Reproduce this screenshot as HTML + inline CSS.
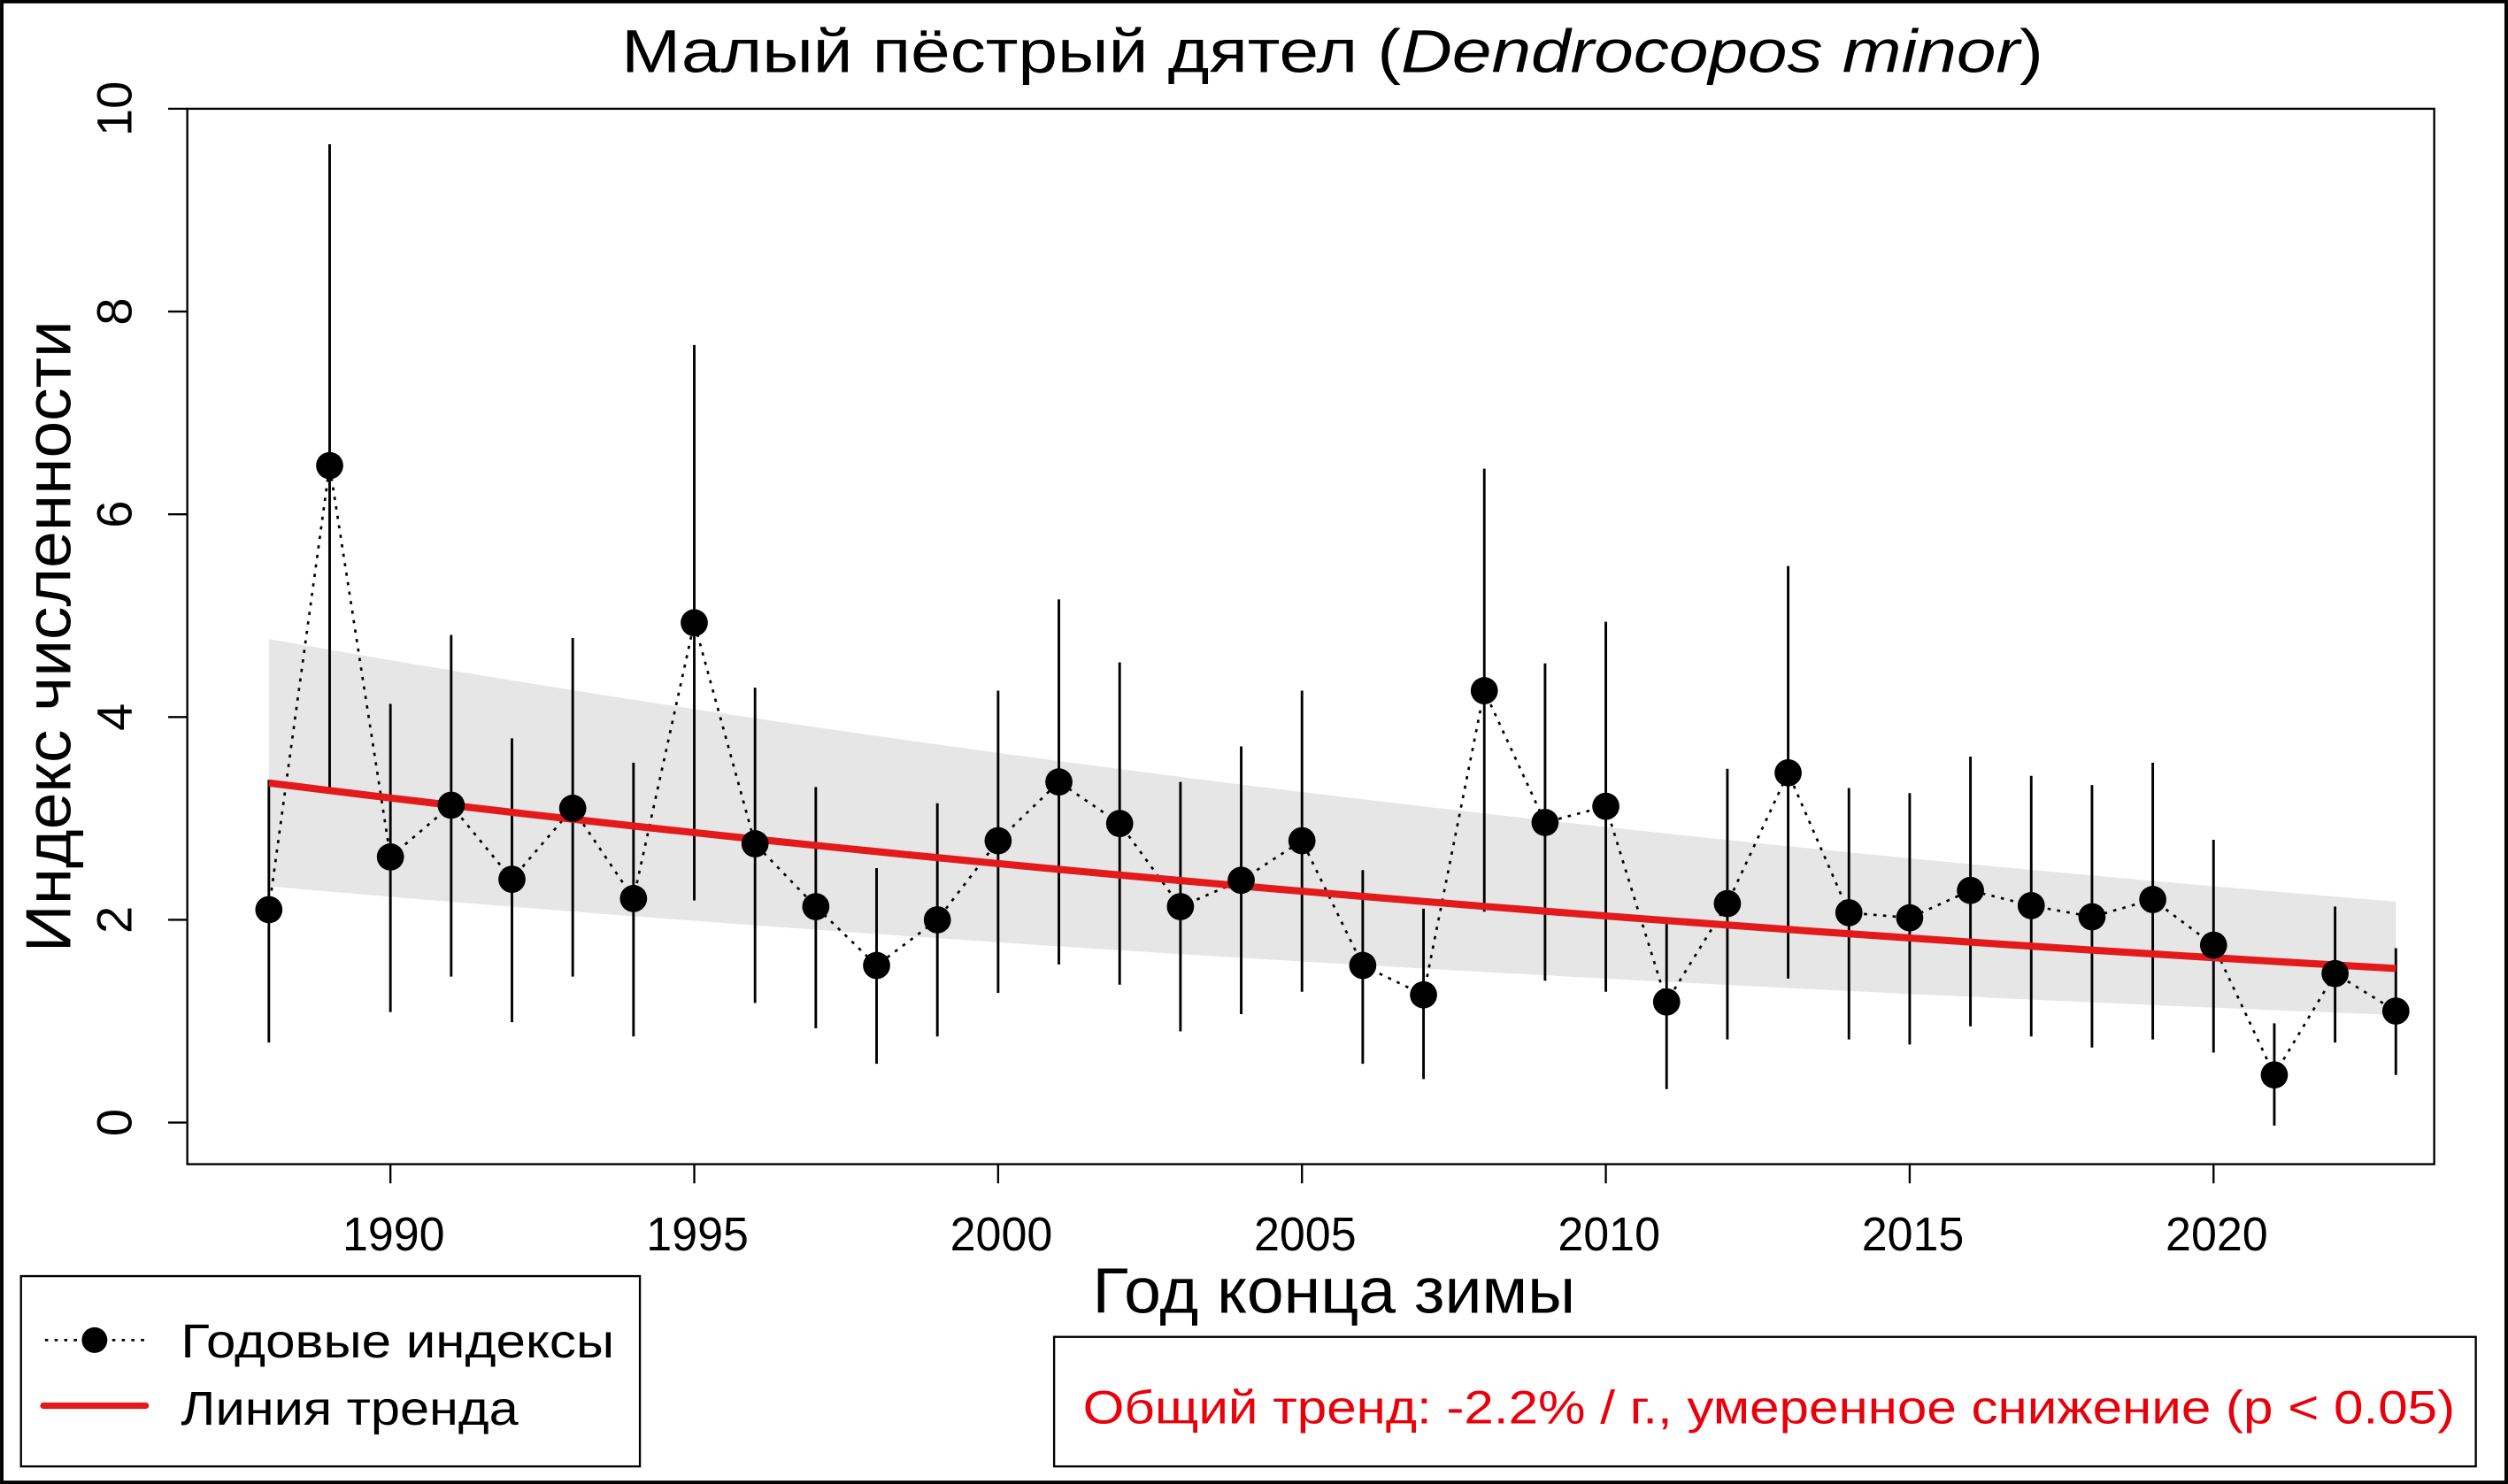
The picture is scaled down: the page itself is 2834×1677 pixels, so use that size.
<!DOCTYPE html>
<html><head><meta charset="utf-8"><style>html,body{margin:0;padding:0;background:#fff}svg{display:block}</style></head>
<body>
<svg id="s" width="2834" height="1677" viewBox="0 0 1568 928" xmlns="http://www.w3.org/2000/svg" font-family="'Liberation Sans', Arial, sans-serif">
<rect x="1" y="1" width="1566" height="926" fill="#fff" stroke="#000" stroke-width="2.2"/>
<text x="833" y="45" font-size="38" text-anchor="middle" textLength="889" lengthAdjust="spacingAndGlyphs">Малый пёстрый дятел (<tspan font-style="italic">Dendrocopos minor</tspan>)</text>
<g id="plot"></g>
<rect x="117" y="68" width="1405" height="660" fill="none" stroke="#000" stroke-width="1.3"/>
<g font-size="30" text-anchor="middle">
<text x="246" y="782" textLength="64" lengthAdjust="spacingAndGlyphs">1990</text><text x="436" y="782" textLength="64" lengthAdjust="spacingAndGlyphs">1995</text><text x="626" y="782" textLength="64" lengthAdjust="spacingAndGlyphs">2000</text>
<text x="816" y="782" textLength="64" lengthAdjust="spacingAndGlyphs">2005</text><text x="1006" y="782" textLength="64" lengthAdjust="spacingAndGlyphs">2010</text><text x="1196" y="782" textLength="64" lengthAdjust="spacingAndGlyphs">2015</text><text x="1386" y="782" textLength="64" lengthAdjust="spacingAndGlyphs">2020</text>
</g>
<text x="834" y="821" font-size="40" text-anchor="middle" textLength="302" lengthAdjust="spacingAndGlyphs">Год конца зимы</text>
<text transform="translate(44,398) rotate(-90)" font-size="40" text-anchor="middle" textLength="395" lengthAdjust="spacingAndGlyphs">Индекс численности</text>
<rect x="13" y="798" width="387" height="119" fill="#fff" stroke="#000" stroke-width="1.3"/>
<line x1="28" y1="838" x2="90" y2="838" stroke="#000" stroke-width="1.5" stroke-dasharray="2,4"/>
<circle cx="59" cy="838" r="8" fill="#000"/>
<line x1="27" y1="879" x2="91" y2="879" stroke="#e31a1c" stroke-width="4" stroke-linecap="round"/>
<text x="113" y="849" font-size="30" textLength="271" lengthAdjust="spacingAndGlyphs">Годовые индексы</text>
<text x="113" y="891" font-size="30" textLength="211" lengthAdjust="spacingAndGlyphs">Линия тренда</text>
<rect x="659" y="836" width="889" height="81" fill="#fff" stroke="#000" stroke-width="1.3"/>
<text x="1106" y="890" font-size="29" fill="#e8000b" text-anchor="middle" textLength="858" lengthAdjust="spacingAndGlyphs">Общий тренд: -2.2% / г., умеренное снижение (p &lt; 0.05)</text>
</svg>
<script>
const NS="http://www.w3.org/2000/svg",g=document.getElementById('plot');
function el(t,a){const e=document.createElementNS(NS,t);for(const k in a)e.setAttribute(k,a[k]);g.appendChild(e);return e;}
const X=y=>244+38*(y-1990),Y=v=>702-63.4*v;
const d=[[2.1,.79,3.38],[6.48,3.3,9.65],[2.62,1.09,4.13],[3.13,1.44,4.81],[2.4,.99,3.79],[3.1,1.44,4.78],[2.21,.85,3.55],[4.93,2.19,7.67],[2.75,1.18,4.29],[2.13,.93,3.31],[1.55,.58,2.51],[2.0,.85,3.15],[2.78,1.28,4.26],[3.36,1.56,5.16],[2.95,1.36,4.54],[2.13,.9,3.36],[2.39,1.07,3.71],[2.78,1.29,4.26],[1.55,.58,2.49],[1.26,.43,2.11],[4.26,2.08,6.45],[2.96,1.4,4.53],[3.12,1.29,4.94],[1.19,.33,2.0],[2.16,.82,3.49],[3.45,1.42,5.49],[2.07,.82,3.3],[2.02,.77,3.25],[2.29,.95,3.61],[2.14,.85,3.42],[2.03,.74,3.33],[2.2,.82,3.55],[1.75,.69,2.79],[.47,-.03,.98],[1.47,.79,2.13],[1.1,.47,1.72]];
let up=[],lo=[],tr=[];
for(let i=0;i<=70;i++){const t=i/70,yr=1988+35*t;
 const u=4.77*Math.pow(2.18/4.77,t),l=2.33*Math.pow(1.06/2.33,t),m=3.35*Math.pow(1.52/3.35,t);
 up.push(X(yr)+','+Y(u));lo.unshift(X(yr)+','+Y(l));tr.push(X(yr)+','+Y(m));}
el('polygon',{points:up.concat(lo).join(' '),fill:'#e6e6e6'});
for(let v=0;v<=10;v+=2){el('line',{x1:105,x2:117,y1:Y(v),y2:Y(v),stroke:'#000','stroke-width':1.3});
 const t=el('text',{transform:`translate(82,${Y(v)}) rotate(-90)`,'font-size':31,'text-anchor':'middle'});t.textContent=v;}
for(let yr=1990;yr<=2020;yr+=5)el('line',{x1:X(yr),x2:X(yr),y1:728,y2:740,stroke:'#000','stroke-width':1.3});
d.forEach((p,i)=>el('line',{x1:X(1988+i),x2:X(1988+i),y1:Y(p[1]),y2:Y(p[2]),stroke:'#000','stroke-width':1.6}));
el('polyline',{points:d.map((p,i)=>X(1988+i)+','+Y(p[0])).join(' '),fill:'none',stroke:'#000','stroke-width':1.5,'stroke-dasharray':'2,4'});
el('polyline',{points:tr.join(' '),fill:'none',stroke:'#e31a1c','stroke-width':4.5});
d.forEach((p,i)=>el('circle',{cx:X(1988+i),cy:Y(p[0]),r:8.5,fill:'#000'}));
</script>
</body></html>
